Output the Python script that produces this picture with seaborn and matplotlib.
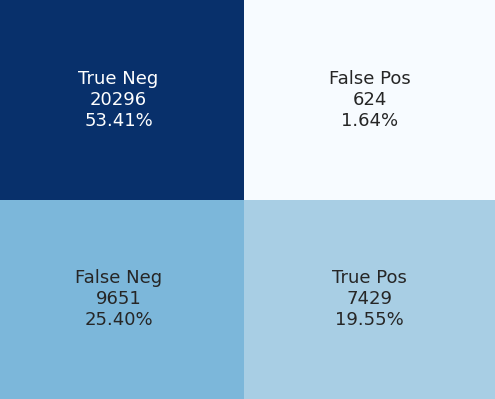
import numpy as np
import seaborn as sns
import matplotlib.pyplot as plt

group_names = ['True Neg', 'False Pos', 'False Neg', 'True Pos']
group_counts = [20296, 624, 9651, 7429]
group_percentages = [53.41, 1.64, 25.40, 19.55]

labels = [f'{n}\n{c}\n{p:.2f}%' for n, c, p in zip(group_names, group_counts, group_percentages)]
labels = np.asarray(labels).reshape(2, 2)
cf_matrix = np.asarray(group_counts).reshape(2, 2)

fig = plt.figure(figsize=(4.95, 3.99), dpi=100)
# 左列稍微被裁掉一点
ax = fig.add_axes([-7 / 495, 0, 502 / 495, 1])
sns.heatmap(cf_matrix, annot=labels, fmt='', cmap='Blues', cbar=False,
            xticklabels=False, yticklabels=False, annot_kws={'fontsize': 13}, ax=ax)
ax.tick_params(left=False, bottom=False)
plt.savefig('out.png', dpi=100)
